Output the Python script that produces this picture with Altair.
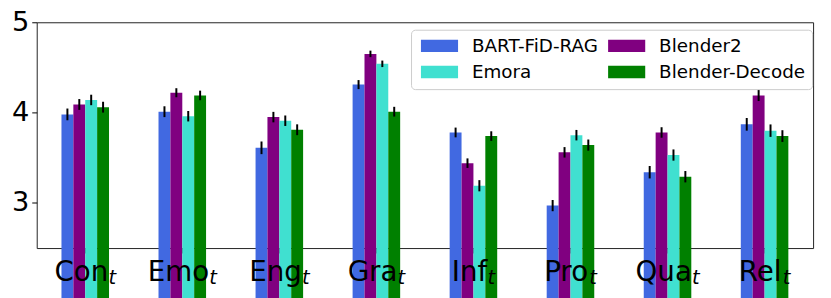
import altair as alt
import pandas as pd

categories = ["Con", "Emo", "Eng", "Gra", "Inf", "Pro", "Qua", "Rel"]
subscript = "t"
models = ["BART-FiD-RAG", "Blender2", "Emora", "Blender-Decode"]
legend_order = ["BART-FiD-RAG", "Emora", "Blender2", "Blender-Decode"]
legend_colors = ["#4169E1", "#40E0D0", "#800080", "#008000"]

values = {
    "BART-FiD-RAG":   [3.98, 4.01, 3.61, 4.31, 3.78, 2.97, 3.34, 3.87],
    "Blender2":       [4.09, 4.22, 3.95, 4.65, 3.44, 3.56, 3.78, 4.19],
    "Emora":          [4.14, 3.96, 3.91, 4.54, 3.19, 3.75, 3.53, 3.80],
    "Blender-Decode": [4.06, 4.19, 3.81, 4.01, 3.74, 3.64, 3.29, 3.74],
}
errors = {
    "BART-FiD-RAG":   [0.065, 0.060, 0.070, 0.050, 0.054, 0.062, 0.069, 0.070],
    "Blender2":       [0.060, 0.050, 0.058, 0.036, 0.053, 0.058, 0.058, 0.062],
    "Emora":          [0.058, 0.058, 0.058, 0.036, 0.062, 0.058, 0.062, 0.069],
    "Blender-Decode": [0.060, 0.053, 0.060, 0.054, 0.053, 0.062, 0.063, 0.065],
}

rows = []
for m in models:
    for c, v, e in zip(categories, values[m], errors[m]):
        rows.append({"cat": c, "model": m, "value": v, "lo": v - e, "hi": v + e})
df = pd.DataFrame(rows)

# DejaVu Sans advance widths (em) used to centre "word + subscript" labels
ADV = {"C": 0.698, "o": 0.612, "n": 0.634, "E": 0.632, "m": 0.974, "g": 0.635,
       "G": 0.775, "r": 0.411, "a": 0.613, "I": 0.295, "f": 0.352, "P": 0.603,
       "Q": 0.787, "u": 0.634, "R": 0.695, "e": 0.615, "l": 0.278}
LABEL_FS = 28
SUB_FS = 19.6
SUB_W = 0.392 * SUB_FS

y_scale = alt.Scale(domain=[2.5, 5], nice=False, zero=False)
x_scale = alt.Scale(paddingInner=0.51, paddingOuter=0.255)
xoff = alt.XOffset("model:N", sort=models, scale=alt.Scale(domain=models))

bars = alt.Chart(df).mark_bar().encode(
    x=alt.X("cat:N", sort=categories, scale=x_scale,
            axis=alt.Axis(title=None, labels=False, tickSize=5, domain=False,
                          tickColor="black")),
    xOffset=xoff,
    y=alt.Y("value:Q", scale=y_scale,
            axis=alt.Axis(title=None, values=[3, 4, 5], format="d", labelFontSize=27.5,
                          tickSize=5, labelPadding=3, grid=False, domain=False,
                          tickColor="black", labelColor="black")),
    y2=alt.value(228),
    color=alt.Color("model:N", scale=alt.Scale(domain=legend_order, range=legend_colors),
                    legend=alt.Legend(title=None, orient="none", legendX=378, legendY=7.5,
                                      columns=2, labelFontSize=18.5, labelColor="black",
                                      symbolType="M-1,-1H5V1H-1Z", symbolSize=156,
                                      symbolStrokeWidth=0, symbolOpacity=1,
                                      labelOffset=36, columnPadding=7, rowPadding=7.5,
                                      padding=7, strokeColor="#cccccc", fillColor="white",
                                      cornerRadius=4)),
)

errs = alt.Chart(df).mark_rule(color="black", strokeWidth=2).encode(
    x=alt.X("cat:N", sort=categories),
    xOffset=xoff,
    y=alt.Y("lo:Q", scale=y_scale),
    y2="hi:Q",
)

label_layers = []
for c in categories:
    ww = sum(ADV[ch] for ch in c) * LABEL_FS
    total = ww + SUB_W
    ld = pd.DataFrame({"cat": [c], "word": [c], "sub": [subscript]})
    word = alt.Chart(ld).mark_text(align="left", baseline="alphabetic", fontSize=LABEL_FS,
                                   color="black", dx=-total / 2).encode(
        x=alt.X("cat:N", sort=categories), y=alt.value(261), text="word:N")
    sub = alt.Chart(ld).mark_text(align="left", baseline="alphabetic", fontSize=SUB_FS,
                                  fontStyle="italic", color="black",
                                  dx=-total / 2 + ww).encode(
        x=alt.X("cat:N", sort=categories), y=alt.value(264), text="sub:N")
    label_layers += [word, sub]

chart = alt.layer(bars, errs, *label_layers).properties(
    width=784, height=228,
    autosize=alt.AutoSizeParams(type="none"),
    padding={"left": 29, "top": 13, "right": 10, "bottom": 49},
).configure(font="DejaVu Sans").configure_view(
    stroke="#222222", strokeWidth=1
)

chart.save("out.html", embed_options={"renderer": "svg", "actions": False})
